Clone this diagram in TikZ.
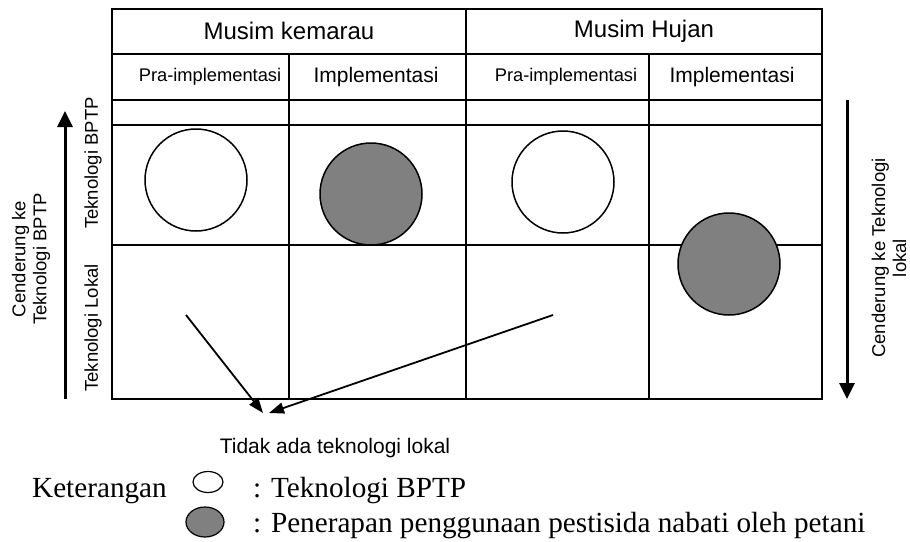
\documentclass[tikz,border=0pt]{standalone}
\usepackage{fontspec}
\setmainfont{Liberation Serif}
\setsansfont{Liberation Sans}
\usetikzlibrary{arrows.meta,shapes.geometric}

\begin{document}
\begin{tikzpicture}[x=1pt,y=-1pt,
    hdr/.style={font=\sffamily\fontsize{24}{27}\selectfont,inner sep=0pt},
    col/.style={font=\sffamily\fontsize{21}{24}\selectfont,inner sep=0pt},
    pra/.style={font=\sffamily\fontsize{18.3}{21}\selectfont,inner sep=0pt},
    side/.style={font=\sffamily\fontsize{18.5}{21}\selectfont,inner sep=0pt,rotate=90,align=center},
    ket/.style={font=\fontsize{29.2}{33}\selectfont,inner sep=0pt,anchor=base west},
    bptp/.style={circle,draw,line width=1.5pt,fill=white,minimum size=102pt,inner sep=0pt},
    nabati/.style={circle,draw,line width=1.5pt,fill=gray,minimum size=102pt,inner sep=0pt}]
\useasboundingbox (0,0) rectangle (910,541);
% tabel
\draw[line width=1.5pt] (112,9) rectangle (822,399);
\draw[line width=1.2pt] (112,54)--(822,54) (112,100)--(822,100)
    (112,125)--(822,125) (112,245)--(822,245);
\draw[line width=1.2pt] (466,9)--(466,399) (289,54)--(289,399) (649,54)--(649,399);
% judul kolom
\node[hdr] (kemarau) at (289,31) {Musim kemarau};
\node[hdr] (hujan) at (644,31) {Musim Hujan};
\node[pra] (kemPraT) at (210,77) {Pra-implementasi};
\node[col] (kemImpT) at (376,77) {Implementasi};
\node[pra] (hujPraT) at (566,77) {Pra-implementasi};
\node[col] (hujImpT) at (732,77) {Implementasi};
% baris
\node[side] (barisB) at (93,163) {Teknologi BPTP};
\node[side] (barisL) at (93,328) {Teknologi Lokal};
% lingkaran
\node[bptp] (kemPra) at (196,180) {};
\node[nabati] (kemImp) at (371,194) {};
\node[bptp] (hujPra) at (563,182) {};
\node[nabati] (hujImp) at (729,264) {};
% panah samping
\coordinate (upBot) at (65,399);
\coordinate (upTop) at (65,111);
\coordinate (dnTop) at (847,100);
\coordinate (dnBot) at (847,399);
\draw[line width=3pt,-{Triangle[length=16pt,width=15pt]}] (upBot)--(upTop);
\draw[line width=3pt,-{Triangle[length=16pt,width=15pt]}] (dnTop)--(dnBot);
\node[side] (kiri) at (31,259) {Cenderung ke\\Teknologi BPTP};
\node[side] (kanan) at (889,258) {Cenderung ke Teknologi\\lokal};
% tidak ada teknologi lokal
\coordinate (kemSrc) at (186,315);
\coordinate (hujSrc) at (553,315);
\coordinate (tipA) at (263,413);
\coordinate (tipB) at (269,413);
\draw[line width=1.8pt,-{Triangle[length=15pt,width=11pt]}] (kemSrc)--(tipA);
\draw[line width=1.8pt,-{Triangle[length=15pt,width=11pt]}] (hujSrc)--(tipB);
\node[col] (tidak) at (335,448) {Tidak ada teknologi lokal};
% keterangan
\node[ket] (keterangan) at (32,497) {Keterangan};
\node[ellipse,draw,line width=1.2pt,fill=white,minimum width=30pt,minimum height=21pt,inner sep=0pt] (kw) at (208,482) {};
\node[ellipse,draw,line width=1.2pt,fill=gray,minimum width=38pt,minimum height=30pt,inner sep=0pt] (kg) at (205,522) {};
\node[ket] (ketB) at (253,497) {: Teknologi BPTP};
\node[ket] (ketN) at (253,532) {: Penerapan penggunaan pestisida nabati oleh petani};
\end{tikzpicture}
\end{document}
